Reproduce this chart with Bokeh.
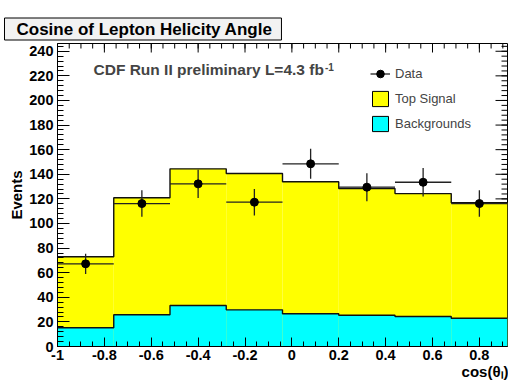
import math
from bokeh.plotting import figure
from bokeh.models import (Range1d, LinearAxis, FixedTicker, Label, Legend,
                          LegendItem, ColumnDataSource, Title)
from bokeh.embed import file_html
from bokeh.resources import INLINE
import numpy as np

# ---------------- data ----------------
bin_edges = [-1.0, -0.76, -0.52, -0.28, -0.04, 0.20, 0.44, 0.68, 0.92]
total_mc = [73.0, 120.9, 144.4, 140.6, 133.9, 128.4, 124.3, 116.8]   # top signal + backgrounds
backgrounds = [15.2, 25.8, 33.3, 29.8, 26.6, 25.4, 24.4, 23.0]
data_vals = [67.2, 116.2, 132.2, 117.3, 148.5, 129.5, 133.5, 116.2]
data_err = [8.2, 10.8, 11.5, 10.8, 12.2, 11.4, 11.6, 10.8]

x_ticks = [-1.0, -0.8, -0.6, -0.4, -0.2, 0.0, 0.2, 0.4, 0.6, 0.8]
x_tick_labels = ["-1", "-0.8", "-0.6", "-0.4", "-0.2", "0", "0.2", "0.4", "0.6", "0.8"]
y_ticks = [0, 20, 40, 60, 80, 100, 120, 140, 160, 180, 200, 220, 240]

FONT = "Liberation Sans"
X_MIN, X_MAX = -1.0, 0.92
Y_MIN, Y_MAX = 0.0, 246.3

# frame placement in canvas pixels
FL, FB = 57, 346

left = bin_edges[:-1]
right = bin_edges[1:]
centers = [(a + b) / 2 for a, b in zip(left, right)]
src = ColumnDataSource(dict(
    left=left, right=right, center=centers,
    total=total_mc, bkg=backgrounds, data=data_vals,
    lo=[d - e for d, e in zip(data_vals, data_err)],
    hi=[d + e for d, e in zip(data_vals, data_err)],
))

p = figure(width=508, height=383, x_range=Range1d(X_MIN, X_MAX),
           y_range=Range1d(Y_MIN, Y_MAX), output_backend="svg",
           toolbar_location=None, x_axis_type=None, y_axis_type=None,
           min_border_left=FL, min_border_right=1, min_border_top=43,
           min_border_bottom=383 - FB)
p.outline_line_color = "black"
p.outline_line_width = 1
p.background_fill_color = "white"
p.border_fill_color = "white"

# title box (ROOT-style pave)
p.title.text = "Cosine of Lepton Helicity Angle"
p.title.align = "left"
p.title.offset = -53
p.title.standoff = 7
p.title.text_font = FONT
p.title.text_font_style = "bold"
p.title.text_font_size = "17px"
p.title.text_color = "black"
p.title.background_fill_color = "#f2f2f2"
p.title.border_line_color = "black"
p.title.border_line_width = 1
p.title.padding = dict(left=12, right=9, top=2, bottom=1)

x_minor = list(np.round(np.arange(-1.0, 0.9201, 0.05), 4))
y_minor = list(range(0, 247, 4))


def style_axis(ax, major_in, minor_in, standoff):
    ax.major_tick_in = major_in
    ax.major_tick_out = 0
    ax.minor_tick_in = minor_in
    ax.minor_tick_out = 0
    ax.axis_line_color = "black"
    ax.major_tick_line_color = "black"
    ax.minor_tick_line_color = "black"
    ax.major_label_text_font = FONT
    ax.major_label_text_font_style = "bold"
    ax.major_label_text_font_size = "14.5px"
    ax.major_label_text_color = "black"
    ax.major_label_standoff = standoff
    ax.axis_label_text_font = FONT
    ax.axis_label_text_font_style = "bold"
    ax.axis_label_text_font_size = "15px"
    ax.axis_label_text_color = "black"


xb = LinearAxis(ticker=FixedTicker(ticks=x_ticks, minor_ticks=x_minor))
xb.major_label_overrides = {t: s for t, s in zip(x_ticks, x_tick_labels)}
style_axis(xb, 9, 5, 3)
p.add_layout(xb, "below")

# x axis title, right-aligned at the end of the axis (ROOT style)
x_title = Title(text="cos(θₗ)", align="right", vertical_align="top",
                offset=-1, standoff=0, text_font=FONT, text_font_style="bold",
                text_font_size="15px", text_color="black")
p.add_layout(x_title, "below")

yl = LinearAxis(ticker=FixedTicker(ticks=y_ticks, minor_ticks=y_minor),
                axis_label="Events")
style_axis(yl, 12, 6, 4)
yl.axis_label_standoff = 1
p.add_layout(yl, "left")

# ticks on the top and right frame edges (ROOT draws them on all sides)
p.ray(x=x_ticks, y=Y_MAX, length=9, length_units="screen", angle=-math.pi / 2,
      line_color="black", line_width=1)
p.ray(x=x_minor, y=Y_MAX, length=5, length_units="screen", angle=-math.pi / 2,
      line_color="black", line_width=1)
p.ray(x=X_MAX, y=y_ticks, length=12, length_units="screen", angle=math.pi,
      line_color="black", line_width=1)
p.ray(x=X_MAX, y=y_minor, length=6, length_units="screen", angle=math.pi,
      line_color="black", line_width=1)

# ---------------- histograms ----------------
p.quad(left="left", right="right", bottom=0, top="total", source=src,
       fill_color="#ffff00", line_color=None)
p.quad(left="left", right="right", bottom=0, top="bkg", source=src,
       fill_color="#00ffff", line_color=None)
p.step(x=bin_edges, y=total_mc + [total_mc[-1]], mode="after",
       line_color="#111111", line_width=1.4)
p.step(x=bin_edges, y=backgrounds + [backgrounds[-1]], mode="after",
       line_color="#111111", line_width=1.4)

# ---------------- data points ----------------
hbar = p.segment(x0="left", x1="right", y0="data", y1="data", source=src,
                 line_color="#222222", line_width=1.3)
p.segment(x0="center", x1="center", y0="lo", y1="hi", source=src,
          line_color="#222222", line_width=1.3)
pts = p.scatter(x="center", y="data", source=src, size=8, marker="circle",
                fill_color="black", line_color="black")

# legend swatches (zero-size, only used for the legend boxes with outline)
sig_proxy = p.quad(left="left", right="left", top=0, bottom=0, source=src,
                   fill_color="#ffff00", line_color="black", line_width=1)
bkg_proxy = p.quad(left="left", right="left", top=0, bottom=0, source=src,
                   fill_color="#00ffff", line_color="black", line_width=1)

legend = Legend(items=[
    LegendItem(label="Data", renderers=[hbar, pts], index=0),
    LegendItem(label="Top Signal", renderers=[sig_proxy], index=0),
    LegendItem(label="Backgrounds", renderers=[bkg_proxy], index=0),
], location=(370 - FL, FB - 133), border_line_color=None,
   background_fill_alpha=0, label_text_font=FONT, label_text_font_size="13px",
   glyph_width=20, glyph_height=19, label_height=19, spacing=6, padding=0,
   margin=0, label_standoff=5)
p.add_layout(legend)


def fx(cx):
    return cx - FL


def fy(cy):
    return FB - cy


# ---------------- annotations ----------------
p.add_layout(Label(x=fx(93), y=fy(77), x_units="screen", y_units="screen",
                   text="CDF Run II preliminary L=4.3 fb", text_font=FONT,
                   text_font_style="bold", text_font_size="15.5px"))
p.add_layout(Label(x=fx(324.5), y=fy(70), x_units="screen", y_units="screen",
                   text="-1", text_font=FONT, text_font_style="bold",
                   text_font_size="10px"))

open("out.html", "w").write(file_html(p, INLINE))
